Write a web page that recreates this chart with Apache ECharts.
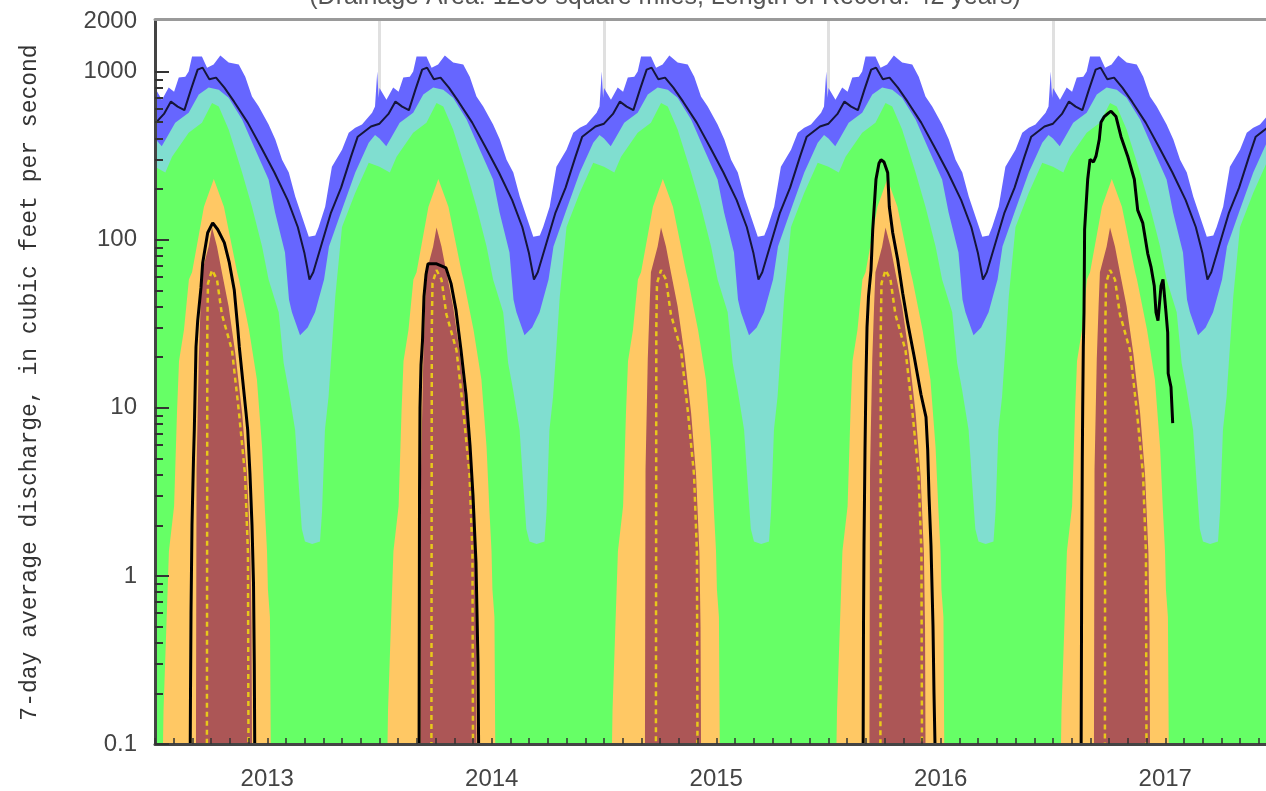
<!DOCTYPE html>
<html><head><meta charset="utf-8">
<script src="https://cdn.jsdelivr.net/npm/echarts@6/dist/echarts.min.js"></script>
<style>html,body{margin:0;padding:0;background:#fff}#c{width:1266px;height:791px}</style>
</head><body><div id="c"></div>
<script>
// ---- data ----
const years = [2012, 2013, 2014, 2015, 2016, 2017, 2018];
const yearLabels = ['2013', '2014', '2015', '2016', '2017'];
const yTickLabels = [0.1, 1, 10, 100, 1000, 2000];
const yMajorTicks = [0.1, 1, 10, 100, 1000];
const yMinorTicks = [0.2,0.3,0.4,0.5,0.6,0.7,0.8,0.9,2,3,4,5,6,7,8,9,20,30,40,50,60,70,80,90,200,300,400,500,600,700,800,900];
const titleText = '(Drainage Area: 1230 square miles, Length of Record: 42 years)';
const yName = '7-day average discharge, in cubic feet per second';

// daily statistics, [fraction of year, cfs] (same each year)
const statMax = [[0.000,800],[0.031,681],[0.061,803],[0.085,760],[0.106,921],[0.135,933],[0.150,1000],[0.165,1228],[0.209,1228],[0.232,1056],[0.261,1101],[0.291,1245],[0.328,1132],[0.373,1101],[0.402,933],[0.432,710],[0.462,619],[0.506,484],[0.536,394],[0.566,299],[0.596,251],[0.625,180],[0.655,137],[0.685,104],[0.714,106],[0.729,119],[0.758,157],[0.788,272],[0.833,343],[0.863,433],[0.892,464],[0.922,484],[0.967,570],[0.980,620],[0.990,1000],[0.996,700]];
const statP90 = [[0.000,400],[0.030,360],[0.050,400],[0.090,497],[0.150,570],[0.195,730],[0.239,803],[0.284,781],[0.328,700],[0.388,518],[0.447,343],[0.506,228],[0.535,145],[0.579,84],[0.597,44],[0.610,37],[0.646,27],[0.680,30],[0.713,37],[0.753,58],[0.775,91],[0.833,151],[0.892,251],[0.952,378],[0.980,420]];
const statP75 = [[0.000,272],[0.046,251],[0.076,312],[0.150,433],[0.209,497],[0.254,650],[0.284,619],[0.328,452],[0.388,251],[0.432,157],[0.477,91],[0.506,58],[0.551,37],[0.573,18.5],[0.595,12.8],[0.624,7.4],[0.639,3.7],[0.654,1.9],[0.668,1.6],[0.700,1.55],[0.735,1.6],[0.744,2.4],[0.757,7.4],[0.773,11.6],[0.788,23],[0.803,46],[0.833,119],[0.892,190],[0.952,287]];
const statP25 = [[0.032,0.05],[0.038,0.16],[0.062,1.4],[0.085,2.6],[0.098,9.4],[0.107,19],[0.129,29],[0.151,58],[0.165,64],[0.218,157],[0.262,230],[0.307,157],[0.366,64],[0.374,58],[0.419,29],[0.454,14.7],[0.477,5.8],[0.490,2.4],[0.499,1.4],[0.503,0.83],[0.512,0.57],[0.517,0.05]];
const statP10 = [[0.182,0.05],[0.1835,0.5],[0.185,4.3],[0.195,19.6],[0.203,40],[0.209,64],[0.239,91],[0.254,118],[0.276,91],[0.298,64],[0.328,40],[0.358,21],[0.388,9.3],[0.410,4.0],[0.425,1.37],[0.430,0.5],[0.433,0.05]];
const statMedian = [[0.2310,0.05],[0.2320,1],[0.2330,30],[0.236,55],[0.254,66],[0.276,58],[0.298,36],[0.343,22],[0.374,9.4],[0.401,4.0],[0.414,1.37],[0.417,0.05]];
const statMean = [[0.000,490],[0.040,560],[0.071,663],[0.101,619],[0.131,590],[0.160,781],[0.190,1028],[0.212,1056],[0.242,900],[0.272,921],[0.309,803],[0.353,660],[0.413,497],[0.472,356],[0.532,251],[0.591,172],[0.636,119],[0.665,84],[0.688,58],[0.705,64],[0.739,91],[0.784,145],[0.829,204],[0.873,312],[0.903,410],[0.962,471]];

// observed 7-day average flow, [decimal year, cfs]
const flow2013 = [[2013.1559,0.05],[2013.1581,0.2],[2013.1604,0.6],[2013.1648,2],[2013.1715,5],[2013.1751,7.4],[2013.1826,23],[2013.1902,33],[2013.2049,52],[2013.2125,73],[2013.2347,110],[2013.2570,126],[2013.2793,115],[2013.3087,96],[2013.3310,73],[2013.3532,50],[2013.3684,30],[2013.3755,23],[2013.3906,14.6],[2013.4053,9.4],[2013.4129,7.4],[2013.4232,4],[2013.4321,2],[2013.4388,0.9],[2013.4423,0.3],[2013.4454,0.05]];
const flow2014 = [[2014.1759,0.05],[2014.1782,3],[2014.1804,10],[2014.1849,18],[2014.1915,25],[2014.1982,46],[2014.2071,62],[2014.2160,72],[2014.2517,72],[2014.2962,68],[2014.3185,55],[2014.3408,38],[2014.3630,22],[2014.3853,12],[2014.4031,6],[2014.4165,3],[2014.4298,1.2],[2014.4388,0.3],[2014.4432,0.05]];
const flow2016 = [[2016.1537,0.05],[2016.1559,0.5],[2016.1581,1.5],[2016.1626,5.6],[2016.1670,15],[2016.1715,30],[2016.1782,46],[2016.1893,66],[2016.1969,114],[2016.2116,229],[2016.2249,285],[2016.2339,299],[2016.2472,290],[2016.2637,250],[2016.2709,157],[2016.2860,110],[2016.3082,76],[2016.3305,48],[2016.3528,32],[2016.3822,20],[2016.4120,12],[2016.4343,8.8],[2016.4419,5.6],[2016.4477,3],[2016.4566,1.5],[2016.4655,0.5],[2016.4699,0.2],[2016.4788,0.05]];
const flow2017 = [[2017.1247,0.05],[2017.1278,1],[2017.1305,5],[2017.1323,10],[2017.1350,23],[2017.1381,37],[2017.1394,60],[2017.1408,115],[2017.1470,157],[2017.1546,229],[2017.1648,300],[2017.1804,290],[2017.1915,314],[2017.2062,395],[2017.2138,500],[2017.2285,540],[2017.2494,570],[2017.2584,581],[2017.2806,540],[2017.3029,410],[2017.3327,314],[2017.3622,229],[2017.3773,150],[2017.3996,126],[2017.4218,83],[2017.4365,69],[2017.4512,53],[2017.4588,37],[2017.4677,33],[2017.4811,53],[2017.4900,58],[2017.5033,37],[2017.5109,28],[2017.5131,16],[2017.5256,13.3],[2017.5332,8.1]];

// ---- build ----
function repeatYears(stat) {
  const out = [];
  years.forEach(y => stat.forEach(p => out.push([y + p[0], p[1]])));
  return out;
}
function band(name, stat, color) {
  return { name, type: 'line', data: repeatYears(stat), symbol: 'none', showSymbol: false,
    lineStyle: { width: 0 }, areaStyle: { color, opacity: 1, origin: 'start' }, silent: true };
}
function flow(data) {
  return { type: 'line', data, symbol: 'none', showSymbol: false, lineStyle: { color: '#000', width: 3 }, z: 5 };
}
const font = 'Liberation Sans';
const chart = echarts.init(document.getElementById('c'));
chart.setOption({
  animation: false,
  backgroundColor: '#fff',
  grid: { left: 155, top: 21, width: 1122.5, height: 723, containLabel: false, outerBoundsMode: 'none' },
  graphic: [{ type: 'text', x: 665, y: -3, z: 100,
    style: { text: titleText, fill: '#555', font: '25px "Liberation Sans"', align: 'center', verticalAlign: 'middle', textAlign: 'center', textVerticalAlign: 'middle' } }],
  xAxis: [
    { type: 'value', min: 2013, max: 2018, interval: 1, position: 'bottom', z: 10,
      axisLine: { show: true, lineStyle: { color: '#444', width: 3 } },
      axisTick: { show: true, inside: true, length: 6, lineStyle: { color: '#333', width: 1.5 } },
      minorTick: { show: true, splitNumber: 12, length: 6, lineStyle: { color: '#333', width: 1.5 } },
      splitLine: { show: false },
      axisLabel: { customValues: yearLabels.map(s => Number(s) + 0.5), formatter: v => String(Math.floor(v)),
        color: '#444', fontSize: 24, fontFamily: font, margin: 23 } },
    { type: 'value', min: 2013, max: 2018, position: 'top', offset: 2, z: 10,
      axisLine: { show: true, lineStyle: { color: '#9a9a9a', width: 3 } },
      axisTick: { show: false }, axisLabel: { show: false }, splitLine: { show: false } },
    { type: 'value', min: 2013, max: 2018, interval: 1, position: 'bottom', z: 0,
      axisLine: { show: false }, axisTick: { show: false }, axisLabel: { show: false },
      splitLine: { show: true, lineStyle: { color: '#e0e0e0', width: 3 } } }
  ],
  yAxis: [
    { type: 'log', logBase: 10, min: 0.1, max: 2000, position: 'left', z: 10,
      name: yName, nameLocation: 'middle', nameGap: 114, nameRotate: 90,
      nameTextStyle: { fontFamily: 'Liberation Mono', fontSize: 23, color: '#333' },
      axisLine: { show: true, lineStyle: { color: '#444', width: 3 } },
      axisTick: { show: true, inside: true, length: 14, customValues: yMajorTicks, lineStyle: { color: '#333', width: 2 } },
      axisLabel: { customValues: yTickLabels, formatter: v => String(v), color: '#444', fontSize: 24, fontFamily: font, margin: 18 },
      splitLine: { show: false } },
    { type: 'log', logBase: 10, min: 0.1, max: 2000, position: 'left', z: 10,
      axisLine: { show: false },
      axisTick: { show: true, inside: true, length: 8, customValues: yMinorTicks, lineStyle: { color: '#333', width: 2 } },
      axisLabel: { show: false }, splitLine: { show: false } }
  ],
  series: [
    band('max', statMax, '#6666ff'),
    band('p90', statP90, '#80ded0'),
    band('p75', statP75, '#66ff66'),
    band('p25', statP25, '#ffc864'),
    band('p10', statP10, '#ac5656'),
    { type: 'line', data: repeatYears(statMedian), symbol: 'none', showSymbol: false, z: 3,
      lineStyle: { color: '#e8c81a', width: 2.5, type: [5, 4] } },
    { type: 'line', data: repeatYears(statMean), symbol: 'none', showSymbol: false, z: 4,
      lineStyle: { color: '#15153a', width: 2 } },
    flow(flow2013), flow(flow2014), flow(flow2016), flow(flow2017)
  ]
});
</script></body></html>
